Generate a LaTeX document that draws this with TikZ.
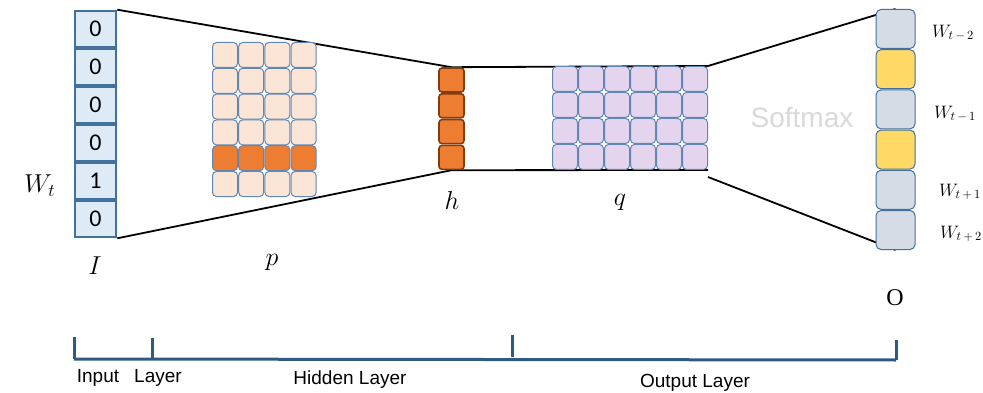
\documentclass[tikz,border=0pt]{standalone}
\usepackage{fontspec}
\setmainfont{Liberation Sans}
\newfontfamily\digitfont{Carlito}
\newfontfamily\uprfont{Liberation Serif}
\usepackage{xcolor}
\usetikzlibrary{positioning, backgrounds}
\definecolor{inb}{RGB}{65, 113, 156}
\definecolor{inf}{RGB}{222, 235, 247}
\definecolor{pf}{RGB}{251, 229, 214}
\definecolor{org}{RGB}{237, 125, 49}
\definecolor{hb}{RGB}{132, 60, 12}
\definecolor{gb}{RGB}{96, 135, 181}
\definecolor{qf}{RGB}{228, 212, 238}
\definecolor{of}{RGB}{214, 220, 229}
\definecolor{yel}{RGB}{255, 217, 102}
\definecolor{axc}{RGB}{46, 90, 136}
\definecolor{soft}{RGB}{217, 217, 217}
\newcommand{\vecm}[1]{\scalebox{1.5}{$#1$}}
\newcommand{\wordm}[1]{\scalebox{1.25}{$#1$}}

\begin{document}
\begin{tikzpicture}[
    x=1pt, y=-1pt,
    incell/.style={rectangle, draw=inb, fill=inf, line width=2.6pt,
      minimum width=41pt, minimum height=36pt, inner sep=0pt,
      font=\digitfont\fontsize{24}{26}\selectfont},
    grid/.style={rectangle, rounded corners=4pt, draw=gb, fill=#1,
      line width=1pt, minimum size=25pt, inner sep=0pt},
    hcell/.style={rectangle, rounded corners=3pt, draw=hb, fill=org,
      line width=1.6pt, minimum width=25pt, minimum height=24pt, inner sep=0pt},
    ocell/.style={rectangle, rounded corners=5pt, draw=inb, fill=#1,
      line width=1pt, minimum width=39pt, minimum height=39pt, inner sep=0pt},
    lbl/.style={font=\fontsize{17.28}{20}\selectfont},
    wlbl/.style={font=\fontsize{14.4}{16}\selectfont},
    axlbl/.style={font=\fontsize{19}{21}\selectfont},
    link/.style={black, line width=1.8pt},
    ax/.style={axc, line width=3pt}
  ]
  \useasboundingbox (0,0) rectangle (983,393);

  % input vector
  \foreach \v [count=\i] in {0,0,0,0,1,0}
    \node[incell] (in\i) at (95.5, {29+38*(\i-1)}) {\v};
  \node[lbl] (wt) at (40,186) {\vecm{W_t}};
  \node[lbl] (ilbl) at (95,266) {\vecm{I}};

  % p matrix
  \foreach \r in {1,...,6}
    \foreach \c in {1,...,4} {
      \ifnum\r=5 \def\pc{org}\else \def\pc{pf}\fi
      \node[grid=\pc] (p-\r-\c) at ({225+26.2*(\c-1)}, {55+25.8*(\r-1)}) {};
    }
  \node[lbl] (plbl) at (272,262) {\vecm{p}};

  % hidden vector
  \foreach \i in {1,...,4}
    \node[hcell] (h\i) at (451.5, {80+25.8*(\i-1)}) {};
  \node[lbl] (hlbl) at (452,200) {\vecm{h}};

  % q matrix
  \foreach \r in {1,...,4}
    \foreach \c in {1,...,6}
      \node[grid=qf] (q-\r-\c) at ({565+26*(\c-1)}, {79+26*(\r-1)}) {};
  \node[lbl] (qlbl) at (620,202) {\vecm{q}};

  % output vector
  \foreach \f [count=\i] in {of,yel,of,yel,of,of}
    \node[ocell=\f] (o\i) at (895.5, {29+40.2*(\i-1)}) {};
  \node[font=\uprfont\fontsize{24}{26}\selectfont] (olbl) at (895,298) {O};
  \node[wlbl] (w1) at (953,33) {\wordm{W_{t\,-\,2}}};
  \node[wlbl] (w2) at (955,114) {\wordm{W_{t\,-\,1}}};
  \node[wlbl] (w3) at (960,192) {\wordm{W_{t\,+\,1}}};
  \node[wlbl] (w4) at (961,234) {\wordm{W_{t\,+\,2}}};
  \node[font=\fontsize{28}{30}\selectfont, text=soft] (sm) at (802,118) {Softmax};

  \begin{scope}[on background layer]
    \draw[link] (in1.north east) -- (h1.north) -- (q-1-6.north east) -- (o1.north);
    \draw[link] (in6.south east) -- (h4.south) -- (q-4-6.south east);
    \draw[link] ([yshift=-7pt]q-4-6.south east) -- (o6.south);
  \end{scope}

  % layer axis
  \coordinate (a0) at (74,359);
  \coordinate (a1) at (152,359);
  \coordinate (a2) at (512,357);
  \coordinate (a3) at (896,360);
  \draw[ax] (a0) -- (a3);
  \draw[ax] (a0) -- ++(0,-22);
  \draw[ax] (a1) -- ++(0,-21);
  \draw[ax] (a2) -- ++(0,-22);
  \draw[ax] (a3) -- ++(0,-20);
  \node[axlbl] (l0) at (98,378) {Input};
  \node[axlbl] (l1) at (158,378) {Layer};
  \node[axlbl] (l2) at (350,380) {Hidden Layer};
  \node[axlbl] (l3) at (695,383) {Output Layer};
\end{tikzpicture}
\end{document}
